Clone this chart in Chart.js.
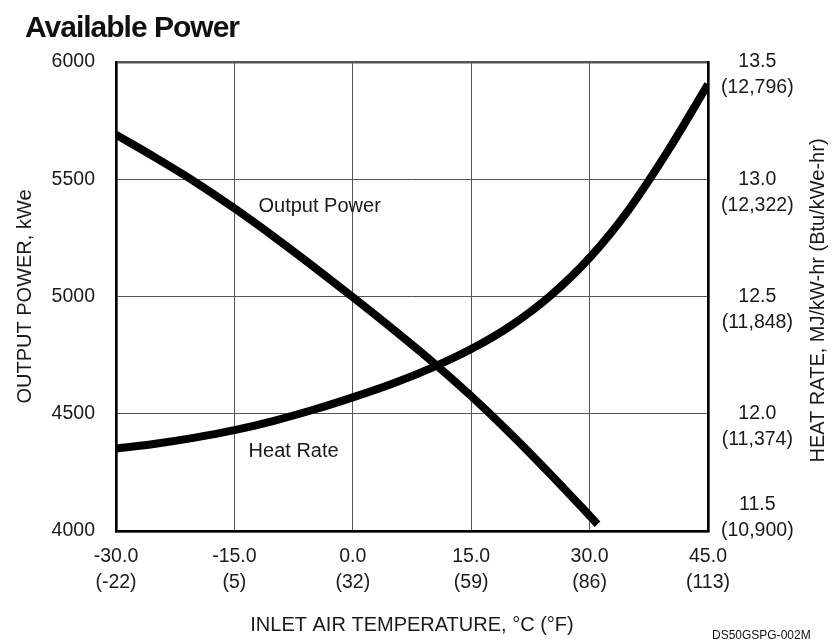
<!DOCTYPE html>
<html lang="en">
<head>
  <meta charset="UTF-8">
  <title>Available Power</title>
  <script src="https://cdn.jsdelivr.net/npm/chart.js"></script>
  <style>
    body { margin: 0; background: #fff; font-family: "Liberation Sans", Arial, sans-serif; }
    #wrap { position: relative; width: 833px; height: 644px; }
    #title {
      position: absolute; left: 25px; top: 10px;
      font-size: 30px; font-weight: bold; letter-spacing: -1px; color: #111;
    }
    #code {
      position: absolute; left: 712px; top: 628px;
      font-size: 12px; color: #111;
    }
  </style>
</head>
<body>
  <div id="wrap">
    <canvas id="chart" width="833" height="644"></canvas>
    <div id="title">Available Power</div>
    <div id="code">DS50GSPG-002M</div>
  </div>

  <script>
    // x axis ticks, deg C with deg F underneath
    const tempC = [-30, -15, 0, 15, 30, 45];
    const tempF = ["(-22)", "(5)", "(32)", "(59)", "(86)", "(113)"];

    // right axis ticks, MJ/kW-hr with Btu/kWe-hr underneath
    const rateMJ = [11.5, 12.0, 12.5, 13.0, 13.5];
    const rateBtu = ["(10,900)", "(11,374)", "(11,848)", "(12,322)", "(12,796)"];

    // output power curve (kWe)
    const powerTemps = [-30, -25, -20, -15, -10, -5, 0, 5, 10, 15, 20, 25, 30, 31];
    const powerKWe = [5690, 5592, 5489, 5376, 5255, 5128, 4997, 4863, 4724, 4575, 4414, 4243, 4065, 4029];

    // heat rate curve (MJ/kW-hr)
    const heatTemps = [-30, -25, -20, -15, -10, -5, 0, 5, 10, 15, 20, 25, 30, 35, 40, 45];
    const heatRate = [11.852, 11.872, 11.898, 11.93, 11.97, 12.017, 12.07, 12.128, 12.196, 12.276, 12.375, 12.502, 12.665, 12.872, 13.125, 13.405];

    // curve labels, placed in data units
    const curveLabels = [
      { text: "Output Power", x: -4.2, y: 5382 },
      { text: "Heat Rate", x: -7.5, y: 4341 }
    ];

    const font = "'Liberation Sans', Arial, sans-serif";
    const ink = "#1a1a1a";
    const rightTitle = "HEAT RATE, MJ/kW-hr (Btu/kWe-hr)";

    const labelPlugin = {
      id: "curveLabels",
      afterDatasetsDraw(chart) {
        const ctx = chart.ctx;
        const sx = chart.scales.x, sy = chart.scales.y;
        const area = chart.chartArea;
        ctx.save();
        ctx.font = "20px " + font;
        ctx.fillStyle = ink;
        ctx.textAlign = "center";
        ctx.textBaseline = "middle";
        curveLabels.forEach(l => {
          ctx.fillText(l.text, sx.getPixelForValue(l.x), sy.getPixelForValue(l.y));
        });
        // right axis title reads bottom to top, like the left one
        ctx.translate(chart.width - 15, (area.top + area.bottom) / 2 + 4);
        ctx.rotate(-Math.PI / 2);
        ctx.fillText(rightTitle, 0, 0);
        ctx.restore();
      }
    };

    const edgeWidth = (v, a, b) => (v === a || v === b) ? 2.5 : 1;

    new Chart(document.getElementById("chart"), {
      type: "line",
      data: {
        datasets: [
          {
            label: "Output Power",
            data: powerTemps.map((t, i) => ({ x: t, y: powerKWe[i] })),
            yAxisID: "y",
            borderColor: "#000",
            borderWidth: 8,
            pointRadius: 0,
            cubicInterpolationMode: "monotone"
          },
          {
            label: "Heat Rate",
            data: heatTemps.map((t, i) => ({ x: t, y: heatRate[i] })),
            yAxisID: "y2",
            borderColor: "#000",
            borderWidth: 8,
            pointRadius: 0,
            cubicInterpolationMode: "monotone"
          }
        ]
      },
      options: {
        responsive: false,
        animation: false,
        layout: { padding: { top: 62, left: 0, right: 0, bottom: 0 } },
        plugins: { legend: { display: false }, tooltip: { enabled: false } },
        scales: {
          x: {
            type: "linear",
            min: -30, max: 45,
            afterFit: s => { s.height = 113; },
            afterBuildTicks: s => { s.ticks = tempC.map(v => ({ value: v })); },
            ticks: {
              padding: 13,
              color: ink,
              font: { family: font, size: 19.5, lineHeight: 26 / 19.5 },
              maxRotation: 0,
              callback: v => [v.toFixed(1), tempF[tempC.indexOf(v)]]
            },
            grid: {
              color: "#555",
              drawTicks: false,
              lineWidth: c => edgeWidth(c.tick && c.tick.value, -30, 45)
            },
            border: { color: "#000", width: 2.5 },
            title: {
              display: true,
              text: "INLET AIR TEMPERATURE, °C (°F)",
              color: ink,
              font: { family: font, size: 20 },
              padding: { top: 0, bottom: 7 }
            }
          },
          y: {
            position: "left",
            min: 4000, max: 6000,
            afterFit: s => { s.width = 116; },
            ticks: {
              stepSize: 500,
              padding: 21,
              color: ink,
              font: { family: font, size: 19.5 },
              callback: v => String(v)
            },
            grid: {
              color: "#555",
              drawTicks: false,
              lineWidth: c => edgeWidth(c.tick && c.tick.value, 4000, 6000)
            },
            border: { color: "#000", width: 2.5 },
            title: {
              display: true,
              text: "OUTPUT POWER, kWe",
              color: ink,
              font: { family: font, size: 20 },
              padding: { top: 13, bottom: 0 }
            }
          },
          y2: {
            position: "right",
            min: 11.5, max: 13.5,
            afterFit: s => { s.width = 125; },
            afterBuildTicks: s => { s.ticks = rateMJ.map(v => ({ value: v })); },
            ticks: {
              padding: 13,
              labelOffset: 13,
              crossAlign: "center",
              color: ink,
              font: { family: font, size: 19.5, lineHeight: 26 / 19.5 },
              callback: v => {
                const i = rateMJ.indexOf(v);
                const lines = [v.toFixed(1), rateBtu[i]];
                // bottom label sits above the axis corner
                return i === 0 ? lines.concat(["", ""]) : lines;
              }
            },
            grid: { drawOnChartArea: false, drawTicks: false },
            border: { color: "#000", width: 2.5 },
            title: { display: false }
          }
        }
      },
      plugins: [labelPlugin]
    });
  </script>
</body>
</html>
